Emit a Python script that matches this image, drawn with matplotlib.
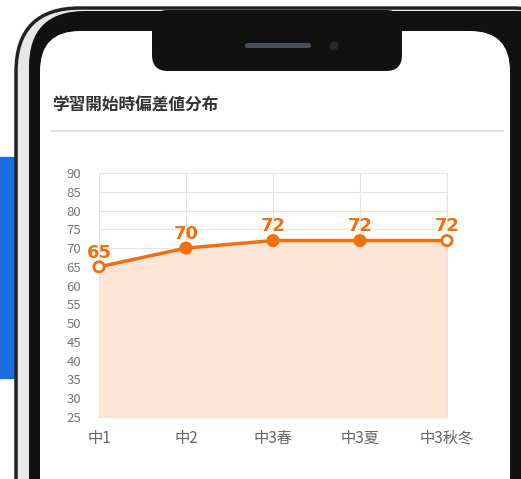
import matplotlib.pyplot as plt
from matplotlib.patches import FancyBboxPatch, Rectangle

plt.rcParams['font.family'] = ['Noto Sans CJK JP', 'DejaVu Sans']

title = '学習開始時偏差値分布'
terms = ['中1', '中2', '中3春', '中3夏', '中3秋冬']
scores = [65, 70, 72, 72, 72]
y_ticks = list(range(25, 95, 5))

orange = '#f26f0f'
fill_col = '#fde4d5'

W, H = 521, 479
fig = plt.figure(figsize=(W / 100, H / 100), dpi=100)

# phone mockup background drawn in pixel coordinates
bg = fig.add_axes([0, 0, 1, 1])
bg.set_xlim(0, W)
bg.set_ylim(H, 0)
bg.axis('off')
bg.add_patch(Rectangle((0, 157), 15, 221, color='#1a6ee0'))
bg.add_patch(FancyBboxPatch((16, 8), 560, 700, boxstyle='round,pad=0,rounding_size=64',
                            fc='#e8e8e8', ec='#222222', lw=2.5))
bg.add_patch(FancyBboxPatch((29, 11), 545, 690, boxstyle='round,pad=0,rounding_size=56',
                            fc='#111111', ec='none'))
bg.add_patch(FancyBboxPatch((40, 31), 470, 700, boxstyle='round,pad=0,rounding_size=40',
                            fc='white', ec='none'))
bg.add_patch(FancyBboxPatch((152, 10), 250, 61, boxstyle='round,pad=0,rounding_size=16',
                            fc='#111111', ec='none'))
bg.add_patch(FancyBboxPatch((245, 43), 66, 5, boxstyle='round,pad=0,rounding_size=2.5',
                            fc='#4a4f57', ec='none'))
bg.add_patch(plt.Circle((334, 46), 3.5, color='#2a2a30'))
bg.text(52, 106, title, fontsize=12, fontweight='bold', color='#333333', va='center')
bg.plot([52, 503], [131, 131], color='#dddddd', lw=1.5)

ax = fig.add_axes([99 / W, 1 - 417 / H, 348 / W, 244 / H])
x = list(range(len(terms)))
ax.fill_between(x, scores, 25, color=fill_col, lw=0)
ax.plot(x, scores, color=orange, lw=2.5, zorder=3, clip_on=False)
faces = ['white' if i in (0, len(x) - 1) else orange for i in x]
ax.scatter(x, scores, s=55, c=faces, edgecolors=orange, linewidths=2,
           zorder=4, clip_on=False)
for xi, v in zip(x, scores):
    ax.text(xi, v + 1.4, str(v), ha='center', va='bottom', color=orange,
            fontsize=13, fontweight='bold', family='DejaVu Sans', zorder=5)

ax.set_xlim(0, len(terms) - 1)
ax.set_ylim(25, 90)
ax.set_yticks(y_ticks)
ax.set_xticks(x)
ax.set_xticklabels(terms, fontsize=11, color='#666666')
ax.tick_params(axis='y', labelsize=9.5, colors='#777777', length=0, pad=13)
ax.tick_params(axis='x', length=0, pad=9)
ax.grid(True, color='#e4e4e4', lw=0.8)
ax.set_axisbelow(True)
ax.set_facecolor('none')
for s in ax.spines.values():
    s.set_color('#e4e4e4')
    s.set_linewidth(0.8)

fig.savefig('out.png', dpi=100)
